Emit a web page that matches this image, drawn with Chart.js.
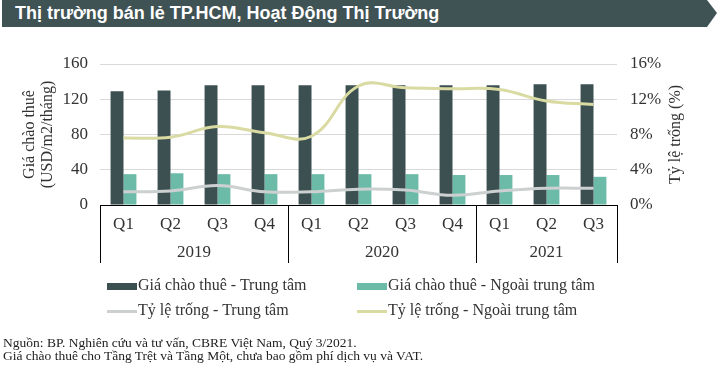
<!DOCTYPE html>
<html>
<head>
<meta charset="utf-8">
<script src="https://cdn.jsdelivr.net/npm/chart.js@4"></script>
<style>
  html, body { margin: 0; padding: 0; background: #fff; }
  #wrap { position: relative; width: 719px; height: 372px; overflow: hidden; }
  #c { position: absolute; left: 0; top: 0; }
  #header {
    position: absolute; left: 2px; top: 0; width: 715px; height: 27px;
    background: #3f5254;
    clip-path: polygon(0 0, 705px 0, 715px 13px, 705px 27px, 0 27px);
  }
  #header span {
    position: absolute; left: 13px; top: 3px;
    font: bold 18px "Liberation Sans", Arial, sans-serif; color: #fff; white-space: nowrap;
  }
  .leg { position: absolute; font: 16px "Liberation Serif", "Times New Roman", serif; color: #333; white-space: nowrap; }
  .sym { position: absolute; width: 30px; }
  #foot { position: absolute; left: 3px; top: 336px; font: 13.5px "Liberation Serif", "Times New Roman", serif; color: #222; line-height: 13px; white-space: nowrap; }
</style>
</head>
<body>
<div id="wrap">
  <canvas id="c" width="719" height="372"></canvas>
  <div id="header"><span>Thị trường bán lẻ TP.HCM, Hoạt Động Thị Trường</span></div>
  <div id="legend"></div>
  <div id="foot">Nguồn: BP. Nghiên cứu và tư vấn, CBRE Việt Nam, Quý 3/2021.<br>Giá chào thuê cho Tầng Trệt và Tầng Một, chưa bao gồm phí dịch vụ và VAT.</div>
</div>
<script>
  // data
  var quarters = ["Q1", "Q2", "Q3", "Q4", "Q1", "Q2", "Q3", "Q4", "Q1", "Q2", "Q3"];
  var years = ["2019", "2020", "2021"];
  var quartersPerYear = [4, 4, 3];
  var rentCBD = [129, 130, 136, 136, 136, 136, 136, 136, 136, 137, 137];
  var rentNonCBD = [35, 36, 35, 35, 35, 35, 35, 34, 34, 34, 32];
  var vacancyCBD = [1.5, 1.6, 2.2, 1.5, 1.5, 1.8, 1.7, 1.1, 1.6, 1.9, 1.9];
  var vacancyNonCBD = [7.6, 7.7, 8.9, 8.2, 7.8, 13.5, 13.3, 13.2, 13.1, 11.8, 11.4];
  var rentTicks = [0, 40, 80, 120, 160];
  var vacancyTicks = [0, 4, 8, 12, 16];

  var serif = "'Liberation Serif', 'Times New Roman', serif";
  var colDark = "#3c4f51", colTeal = "#6bbba8", colGray = "#cdd0d0", colYellow = "#d9dba2";

  //year labels, group separators and axis titles
  var axisExtras = {
    id: "axisExtras",
    afterDraw: function(chart) {
      var ctx = chart.ctx, x = chart.scales.x, area = chart.chartArea;
      var bounds = [area.left];
      var idx = 0;
      quartersPerYear.forEach(function(n, g) {
        idx += n;
        if (g < quartersPerYear.length - 1) {
          bounds.push((x.getPixelForValue(idx - 1) + x.getPixelForValue(idx)) / 2);
        }
      });
      bounds.push(area.right);
      ctx.save();
      ctx.strokeStyle = "#000";
      ctx.lineWidth = 1;
      bounds.forEach(function(b) {
        var px = Math.round(b) + 0.5;
        ctx.beginPath();
        ctx.moveTo(px, area.bottom);
        ctx.lineTo(px, area.bottom + 58);
        ctx.stroke();
      });
      ctx.fillStyle = "#333";
      ctx.font = "17px " + serif;
      ctx.textAlign = "center";
      ctx.textBaseline = "middle";
      years.forEach(function(y, i) {
        ctx.fillText(y, (bounds[i] + bounds[i + 1]) / 2, area.bottom + 48);
      });
      // axis titles
      ctx.font = "16px " + serif;
      var cy = (area.top + area.bottom) / 2;
      ctx.translate(30, cy);
      ctx.rotate(-Math.PI / 2);
      ctx.fillText("Giá chào thuê", 0, 0);
      ctx.fillText("(USD/m2/tháng)", 0, 18);
      ctx.rotate(Math.PI / 2);
      ctx.translate(-30, -cy);
      ctx.translate(676, cy);
      ctx.rotate(-Math.PI / 2);
      ctx.fillText("Tỷ lệ trống (%)", 0, 0);
      ctx.restore();
    }
  };

  var chart = new Chart(document.getElementById("c"), {
    type: "bar",
    data: {
      labels: quarters,
      datasets: [
        { label: "Giá chào thuê - Trung tâm", data: rentCBD, backgroundColor: colDark, yAxisID: "y", order: 2,
          barPercentage: 1, categoryPercentage: 0.55 },
        { label: "Giá chào thuê - Ngoài trung tâm", data: rentNonCBD, backgroundColor: colTeal, yAxisID: "y", order: 2,
          barPercentage: 1, categoryPercentage: 0.55 },
        { type: "line", label: "Tỷ lệ trống - Trung tâm", data: vacancyCBD, borderColor: colGray, borderWidth: 3,
          pointRadius: 0, tension: 0.4, yAxisID: "y1", order: 1 },
        { type: "line", label: "Tỷ lệ trống - Ngoài trung tâm", data: vacancyNonCBD, borderColor: colYellow, borderWidth: 3,
          pointRadius: 0, tension: 0.4, yAxisID: "y1", order: 1 }
      ]
    },
    options: {
      responsive: false,
      animation: false,
      layout: { padding: { top: 64, bottom: 109, left: 0, right: 0 } },
      plugins: { legend: { display: false }, tooltip: { enabled: false } },
      scales: {
        x: {
          grid: { display: false, drawTicks: false },
          border: { display: true, color: "#000", width: 1 },
          ticks: { color: "#333", font: { family: serif, size: 17 }, padding: 9, maxRotation: 0, autoSkip: false },
          afterFit: function(s) { s.height = 58; }
        },
        y: {
          position: "left", min: 0, max: 160,
          afterBuildTicks: function(s) { s.ticks = rentTicks.map(function(v) { return { value: v }; }); },
          grid: { color: "#d9d9d9", drawTicks: false },
          border: { display: false },
          ticks: { color: "#333", font: { family: serif, size: 17 }, padding: 12 },
          afterFit: function(s) { s.width = 100; }
        },
        y1: {
          position: "right", min: 0, max: 16,
          afterBuildTicks: function(s) { s.ticks = vacancyTicks.map(function(v) { return { value: v }; }); },
          grid: { display: false, drawTicks: false },
          border: { display: false },
          ticks: { color: "#333", font: { family: serif, size: 17 }, padding: 13,
            callback: function(v) { return v + "%"; } },
          afterFit: function(s) { s.width = 102; }
        }
      }
    },
    plugins: [axisExtras]
  });

  //html legend from the datasets
  var legendPos = [[107, 286], [357, 286], [107, 311], [357, 311]];
  var legendEl = document.getElementById("legend");
  chart.data.datasets.forEach(function(ds, i) {
    var p = legendPos[i];
    var isLine = ds.type === "line";
    var sym = document.createElement("div");
    sym.className = "sym";
    sym.style.left = p[0] + "px";
    sym.style.height = (isLine ? 3 : 7) + "px";
    sym.style.top = (p[1] - (isLine ? 1.5 : 3.5)) + "px";
    sym.style.background = isLine ? ds.borderColor : ds.backgroundColor;
    legendEl.appendChild(sym);
    var txt = document.createElement("div");
    txt.className = "leg";
    txt.textContent = ds.label;
    txt.style.left = (p[0] + 31) + "px";
    txt.style.top = (p[1] - 10) + "px";
    legendEl.appendChild(txt);
  });
</script>
</body>
</html>
